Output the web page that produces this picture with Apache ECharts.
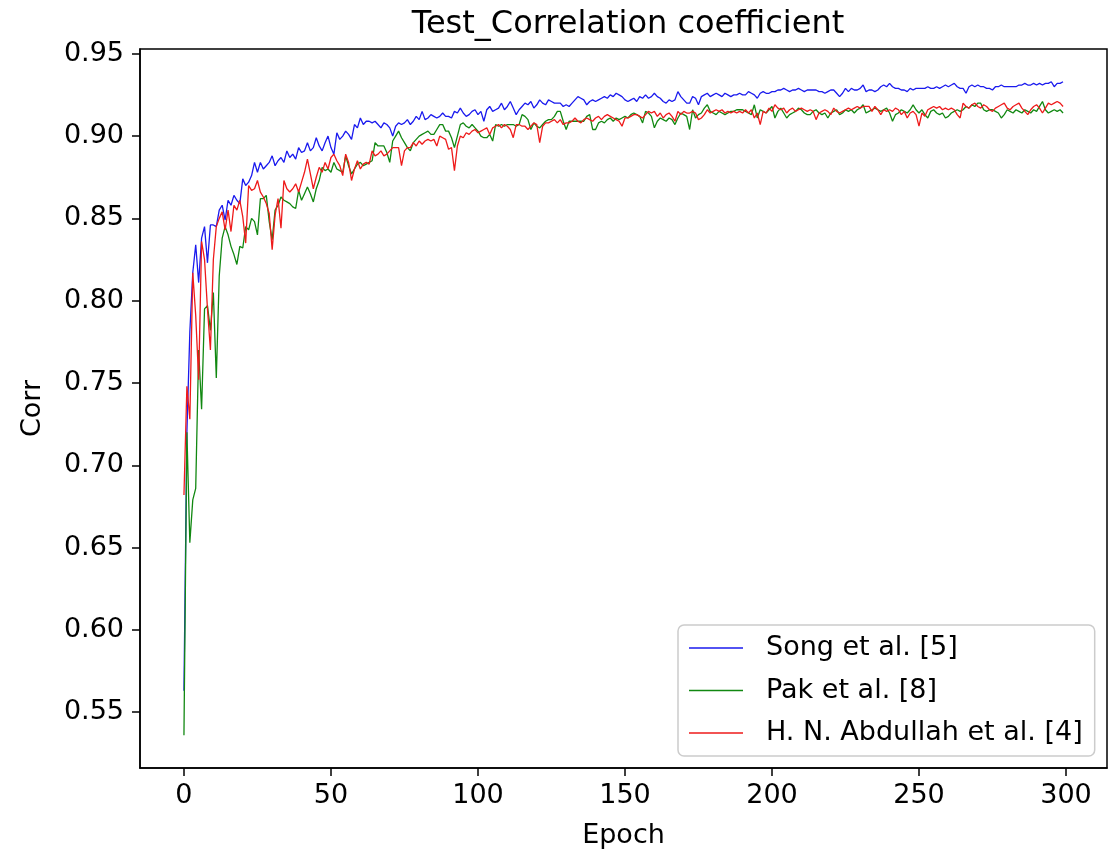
<!DOCTYPE html>
<html>
<head>
<meta charset="utf-8">
<script src="https://cdn.jsdelivr.net/npm/echarts@6/dist/echarts.min.js"></script>
<style>
html,body{margin:0;padding:0;background:#fff;}
#chart{width:1119px;height:854px;}
</style>
</head>
<body>
<div id="chart"></div>
<script>
const titleText = "Test_Correlation coefficient";
const xName = "Epoch";
const yName = "Corr";
const seriesNames = ["Song et al. [5]", "Pak et al. [8]", "H. N. Abdullah et al. [4]"];
const xTicks = [0, 50, 100, 150, 200, 250, 300];
const yTicks = [0.55, 0.60, 0.65, 0.70, 0.75, 0.80, 0.85, 0.90, 0.95];

const song = [
0.563,0.720,0.781,0.817,0.834,0.811,0.838,0.845,0.823,0.846,
0.846,0.845,0.855,0.858,0.849,0.861,0.858,0.864,0.861,0.859,
0.874,0.870,0.872,0.876,0.884,0.878,0.884,0.880,0.882,0.884,
0.888,0.882,0.885,0.887,0.884,0.891,0.887,0.889,0.886,0.893,
0.890,0.891,0.896,0.891,0.893,0.899,0.894,0.891,0.896,0.900,
0.893,0.889,0.902,0.898,0.900,0.903,0.901,0.898,0.907,0.905,
0.911,0.907,0.909,0.909,0.908,0.909,0.907,0.905,0.908,0.907,
0.905,0.900,0.906,0.908,0.907,0.908,0.910,0.907,0.909,0.912,
0.910,0.915,0.910,0.911,0.913,0.912,0.911,0.912,0.914,0.912,
0.912,0.911,0.915,0.914,0.917,0.914,0.912,0.913,0.915,0.916,
0.913,0.915,0.909,0.916,0.918,0.915,0.916,0.917,0.920,0.916,
0.918,0.921,0.917,0.913,0.916,0.918,0.920,0.919,0.921,0.917,
0.919,0.922,0.920,0.919,0.922,0.921,0.920,0.920,0.920,0.918,
0.919,0.918,0.920,0.922,0.924,0.923,0.922,0.919,0.921,0.922,
0.921,0.922,0.923,0.924,0.923,0.925,0.924,0.926,0.925,0.924,
0.922,0.921,0.922,0.923,0.921,0.924,0.923,0.925,0.923,0.924,
0.926,0.924,0.923,0.921,0.920,0.922,0.921,0.922,0.927,0.924,
0.922,0.920,0.920,0.924,0.923,0.919,0.924,0.925,0.926,0.924,
0.925,0.926,0.925,0.924,0.926,0.925,0.924,0.925,0.925,0.926,
0.925,0.925,0.927,0.926,0.925,0.923,0.926,0.927,0.926,0.926,
0.927,0.927,0.928,0.928,0.929,0.928,0.927,0.928,0.928,0.929,
0.928,0.927,0.928,0.928,0.928,0.928,0.927,0.927,0.926,0.927,
0.928,0.928,0.926,0.924,0.926,0.929,0.927,0.929,0.928,0.928,
0.929,0.931,0.927,0.928,0.928,0.927,0.928,0.930,0.931,0.930,
0.932,0.930,0.929,0.929,0.928,0.928,0.927,0.929,0.928,0.929,
0.929,0.929,0.929,0.930,0.929,0.929,0.930,0.929,0.930,0.931,
0.930,0.931,0.932,0.930,0.929,0.929,0.926,0.930,0.931,0.930,
0.931,0.930,0.930,0.929,0.929,0.928,0.930,0.930,0.931,0.930,
0.930,0.930,0.930,0.930,0.931,0.931,0.932,0.931,0.931,0.932,
0.931,0.932,0.931,0.932,0.932,0.933,0.930,0.932,0.932,0.933
];

const pak = [
0.536,0.720,0.653,0.679,0.686,0.770,0.734,0.795,0.797,0.782,
0.805,0.753,0.815,0.838,0.845,0.840,0.833,0.828,0.822,0.833,
0.832,0.845,0.843,0.850,0.848,0.840,0.862,0.862,0.864,0.848,
0.837,0.855,0.858,0.863,0.861,0.860,0.859,0.857,0.856,0.867,
0.861,0.865,0.869,0.865,0.860,0.868,0.873,0.881,0.879,0.880,
0.878,0.884,0.880,0.879,0.878,0.888,0.882,0.877,0.880,0.883,
0.884,0.882,0.883,0.884,0.885,0.896,0.894,0.894,0.894,0.890,
0.884,0.897,0.900,0.903,0.899,0.896,0.893,0.891,0.896,0.898,
0.900,0.901,0.902,0.903,0.901,0.901,0.904,0.907,0.907,0.903,
0.903,0.899,0.893,0.900,0.907,0.908,0.906,0.905,0.907,0.905,
0.903,0.900,0.899,0.899,0.901,0.897,0.907,0.906,0.907,0.906,
0.907,0.907,0.907,0.906,0.907,0.913,0.912,0.910,0.904,0.908,
0.906,0.905,0.907,0.909,0.910,0.910,0.912,0.915,0.915,0.909,
0.904,0.909,0.909,0.909,0.909,0.909,0.909,0.912,0.913,0.904,
0.904,0.908,0.909,0.908,0.910,0.911,0.909,0.911,0.910,0.911,
0.912,0.911,0.913,0.914,0.913,0.912,0.908,0.915,0.914,0.912,
0.905,0.909,0.911,0.910,0.909,0.911,0.910,0.907,0.911,0.914,
0.913,0.912,0.904,0.916,0.911,0.913,0.914,0.917,0.919,0.915,
0.914,0.913,0.915,0.914,0.913,0.914,0.915,0.915,0.916,0.916,
0.916,0.915,0.914,0.913,0.919,0.911,0.916,0.915,0.914,0.916,
0.918,0.911,0.915,0.917,0.914,0.911,0.913,0.914,0.915,0.917,
0.916,0.914,0.913,0.913,0.915,0.916,0.914,0.913,0.914,0.911,
0.914,0.915,0.916,0.913,0.914,0.916,0.915,0.916,0.914,0.916,
0.917,0.919,0.914,0.915,0.916,0.917,0.916,0.915,0.916,0.917,
0.914,0.909,0.913,0.914,0.916,0.915,0.914,0.916,0.919,0.916,
0.914,0.916,0.913,0.911,0.915,0.916,0.914,0.913,0.914,0.911,
0.912,0.914,0.915,0.916,0.915,0.916,0.918,0.917,0.919,0.918,
0.920,0.920,0.916,0.915,0.916,0.916,0.915,0.914,0.911,0.913,
0.916,0.915,0.914,0.916,0.915,0.914,0.916,0.915,0.914,0.916,
0.915,0.918,0.921,0.916,0.914,0.915,0.916,0.915,0.916,0.914
];

const abdullah = [
0.682,0.748,0.728,0.817,0.791,0.752,0.836,0.825,0.795,0.770,
0.825,0.845,0.850,0.854,0.843,0.855,0.842,0.858,0.855,0.861,
0.851,0.835,0.870,0.867,0.868,0.873,0.866,0.863,0.859,0.853,
0.831,0.852,0.862,0.844,0.873,0.868,0.866,0.868,0.871,0.866,
0.872,0.878,0.886,0.877,0.868,0.875,0.881,0.878,0.884,0.880,
0.887,0.889,0.885,0.882,0.876,0.889,0.884,0.873,0.880,0.885,
0.880,0.883,0.884,0.883,0.891,0.888,0.889,0.891,0.888,0.889,
0.891,0.893,0.893,0.893,0.882,0.891,0.893,0.893,0.896,0.894,
0.897,0.895,0.897,0.898,0.897,0.898,0.894,0.900,0.899,0.898,
0.892,0.893,0.879,0.894,0.900,0.899,0.902,0.901,0.903,0.904,
0.902,0.903,0.904,0.905,0.901,0.905,0.906,0.907,0.905,0.907,
0.906,0.904,0.899,0.907,0.907,0.906,0.906,0.904,0.906,0.908,
0.907,0.896,0.906,0.908,0.908,0.909,0.910,0.908,0.910,0.907,
0.908,0.908,0.909,0.911,0.909,0.908,0.910,0.911,0.910,0.909,
0.911,0.912,0.910,0.912,0.913,0.912,0.911,0.910,0.909,0.906,
0.911,0.911,0.912,0.913,0.913,0.912,0.911,0.913,0.915,0.914,
0.915,0.912,0.914,0.911,0.913,0.914,0.912,0.909,0.915,0.913,
0.915,0.914,0.914,0.915,0.914,0.910,0.911,0.913,0.916,0.914,
0.915,0.916,0.915,0.916,0.914,0.915,0.914,0.915,0.914,0.915,
0.914,0.916,0.914,0.916,0.911,0.914,0.907,0.915,0.914,0.917,
0.915,0.919,0.917,0.916,0.917,0.914,0.916,0.917,0.915,0.916,
0.917,0.916,0.915,0.916,0.915,0.910,0.914,0.915,0.916,0.915,
0.913,0.917,0.915,0.914,0.915,0.916,0.917,0.916,0.917,0.918,
0.917,0.918,0.918,0.918,0.915,0.918,0.916,0.913,0.916,0.915,
0.916,0.915,0.917,0.916,0.913,0.915,0.911,0.914,0.915,0.913,
0.906,0.914,0.912,0.916,0.917,0.918,0.917,0.918,0.916,0.917,
0.916,0.917,0.916,0.913,0.911,0.920,0.918,0.917,0.919,0.920,
0.918,0.917,0.919,0.918,0.916,0.915,0.917,0.918,0.919,0.920,
0.917,0.916,0.918,0.919,0.920,0.917,0.915,0.913,0.916,0.918,
0.919,0.917,0.914,0.917,0.920,0.919,0.920,0.921,0.920,0.918
];

const seriesValues = [song, pak, abdullah];
const seriesColors = ["#1a1aee", "#118811", "#ee1a1a"];

const FONT = "DejaVu Sans";
const chart = echarts.init(document.getElementById('chart'), null, {renderer: 'canvas'});

const option = {
  backgroundColor: '#ffffff',
  animation: false,
  title: {
    text: titleText,
    left: 623, top: 4, textAlign: 'center',
    textStyle: {fontFamily: FONT, fontSize: 32, fontWeight: 'normal', color: '#000'}
  },
  grid: {
    left: 140, right: 12, top: 49, bottom: 84,
    show: true, borderColor: '#000', borderWidth: 1.5, backgroundColor: 'transparent'
  },
  legend: {
    orient: 'vertical',
    left: 678, top: 625,
    data: seriesNames.map((n, i) => ({name: n, icon: 'rect', itemStyle: {color: seriesColors[i]}})),
    itemWidth: 54, itemHeight: 1.5,
    itemGap: 10.5,
    padding: [7, 12, 7, 11],
    backgroundColor: '#fff',
    borderColor: '#cccccc', borderWidth: 1.5, borderRadius: 6,
    textStyle: {fontFamily: FONT, fontSize: 27, color: '#000', lineHeight: 32, padding: [0, 0, 0, 18]}
  },
  xAxis: {
    type: 'value',
    min: -14.95, max: 313.95,
    name: xName, nameLocation: 'middle', nameGap: 54,
    nameTextStyle: {fontFamily: FONT, fontSize: 27, color: '#000'},
    axisLine: {show: true, onZero: false, lineStyle: {color: '#000', width: 1.5}},
    axisTick: {show: true, length: 8, inside: false, customValues: xTicks, lineStyle: {color: '#000', width: 1.5}},
    axisLabel: {show: true, customValues: xTicks, margin: 14, fontFamily: FONT, fontSize: 27, color: '#000',
      formatter: v => String(Math.round(v))},
    splitLine: {show: false}
  },
  yAxis: {
    type: 'value',
    min: 0.5161, max: 0.9529,
    name: yName, nameLocation: 'middle', nameGap: 94, nameRotate: 90,
    nameTextStyle: {fontFamily: FONT, fontSize: 27, color: '#000'},
    axisLine: {show: true, onZero: false, lineStyle: {color: '#000', width: 1.5}},
    axisTick: {show: true, length: 8, customValues: yTicks, lineStyle: {color: '#000', width: 1.5}},
    axisLabel: {show: true, customValues: yTicks, margin: 16, fontFamily: FONT, fontSize: 27, color: '#000',
      formatter: v => v.toFixed(2)},
    splitLine: {show: false}
  },
  series: seriesValues.map((arr, si) => ({
    name: seriesNames[si],
    type: 'line',
    data: arr.map((v, i) => [i, v]),
    showSymbol: false, symbol: 'none',
    lineStyle: {color: seriesColors[si], width: 1.3},
    itemStyle: {color: seriesColors[si]},
    z: 2 + si
  }))
};
chart.setOption(option);
</script>
</body>
</html>
